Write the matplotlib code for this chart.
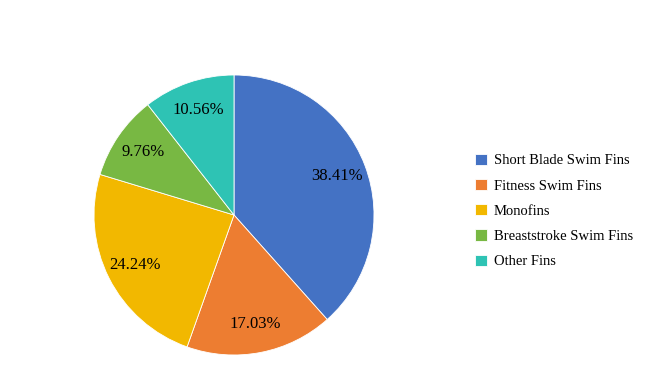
import matplotlib.pyplot as plt

# share of each fin type (%)
labels = ['Short Blade Swim Fins', 'Fitness Swim Fins', 'Monofins',
          'Breaststroke Swim Fins', 'Other Fins']
shares = [38.41, 17.03, 24.24, 9.76, 10.56]
colors = ['#4472C4', '#ED7D31', '#F2B800', '#78B843', '#2EC3B4']

plt.rcParams['font.family'] = ['Liberation Serif', 'DejaVu Serif']

fig = plt.figure(figsize=(6.59, 3.92), dpi=100)
ax = fig.add_axes([94 / 659, 37 / 392, 280 / 659, 280 / 392])

wedges, texts, autotexts = ax.pie(
    shares, colors=colors, startangle=90, counterclock=False,
    autopct='%.2f%%', pctdistance=0.79, radius=1.0,
    wedgeprops=dict(edgecolor='white', linewidth=0.6),
    textprops=dict(fontsize=12, color='black'))
ax.set_xlim(-1, 1)
ax.set_ylim(-1, 1)
ax.set_aspect('equal')

fig.legend(wedges, labels, loc='center left',
           bbox_to_anchor=(462 / 659, 1 - 211 / 392),
           frameon=False, fontsize=10.5, handlelength=0.8,
           handleheight=0.8, handletextpad=0.5, labelspacing=0.8)

fig.savefig('out.png', dpi=100)
